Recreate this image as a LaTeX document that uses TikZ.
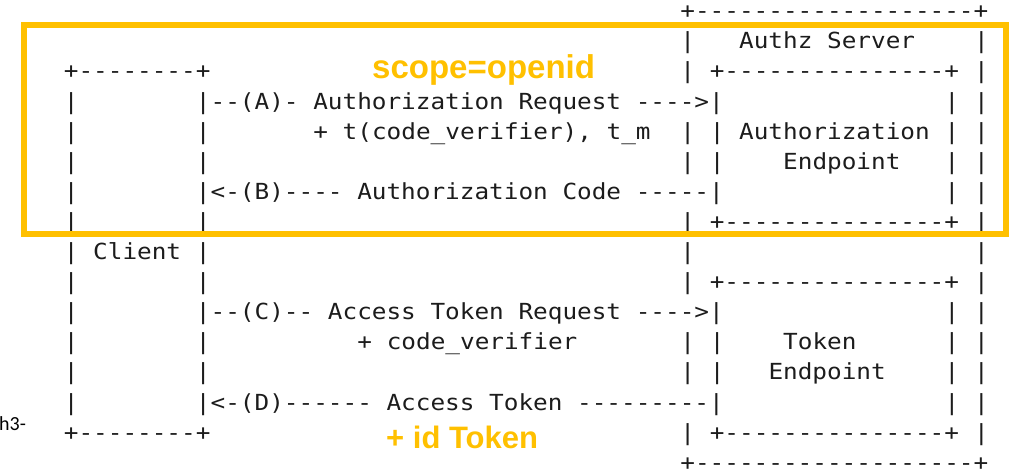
\documentclass[tikz,border=0pt]{standalone}
\usepackage{fontspec}
\setmonofont{DejaVu Sans Mono}[FakeStretch=1.1]
\newfontfamily\labelfont{Liberation Sans}
\newfontfamily\notefont{Carlito}
\definecolor{gold}{HTML}{FFC000}
\definecolor{ink}{HTML}{1C1C1C}
% one segment of the character grid: row, column, text
\newcommand\seg[3]{\node[ascii] (r#1c#2) at ({-38.9+14.68*#2},{18.8+30.1*#1}) {#3};}
\tikzset{
  ascii/.style={font=\ttfamily\fontsize{22.14}{26}\selectfont, text=ink,
    inner sep=0pt, outer sep=0pt, anchor=base west},
  remark/.style={font=\labelfont\bfseries, text=gold, inner sep=0pt, anchor=base west},
  frame/.style={draw=gold, line width=5.8pt}
}
\begin{document}
\begin{tikzpicture}[x=1pt,y=-1pt]
\useasboundingbox (0,0) rectangle (1018,470);
\clip (0,0) rectangle (1018,470);
% authorization server outline and client box
\seg{0}{49}{+-------------------+}
\seg{1}{49}{|}\seg{1}{53}{Authz Server}\seg{1}{69}{|}
\seg{2}{7}{+--------+}\seg{2}{49}{|}\seg{2}{51}{+---------------+}\seg{2}{69}{|}
\seg{3}{7}{|}\seg{3}{16}{|--(A)- Authorization Request ---->|}\seg{3}{67}{|}\seg{3}{69}{|}
\seg{4}{7}{|}\seg{4}{16}{|}\seg{4}{24}{+ t(code\_verifier), t\_m}\seg{4}{49}{|}\seg{4}{51}{|}\seg{4}{53}{Authorization}\seg{4}{67}{|}\seg{4}{69}{|}
\seg{5}{7}{|}\seg{5}{16}{|}\seg{5}{49}{|}\seg{5}{51}{|}\seg{5}{56}{Endpoint}\seg{5}{67}{|}\seg{5}{69}{|}
\seg{6}{7}{|}\seg{6}{16}{|<-(B)---- Authorization Code -----|}\seg{6}{67}{|}\seg{6}{69}{|}
\seg{7}{7}{|}\seg{7}{16}{|}\seg{7}{49}{|}\seg{7}{51}{+---------------+}\seg{7}{69}{|}
\seg{8}{7}{| Client |}\seg{8}{49}{|}\seg{8}{69}{|}
\seg{9}{7}{|}\seg{9}{16}{|}\seg{9}{49}{|}\seg{9}{51}{+---------------+}\seg{9}{69}{|}
\seg{10}{7}{|}\seg{10}{16}{|--(C)-- Access Token Request ---->|}\seg{10}{67}{|}\seg{10}{69}{|}
\seg{11}{7}{|}\seg{11}{16}{|}\seg{11}{27}{+ code\_verifier}\seg{11}{49}{|}\seg{11}{51}{|}\seg{11}{56}{Token}\seg{11}{67}{|}\seg{11}{69}{|}
\seg{12}{7}{|}\seg{12}{16}{|}\seg{12}{49}{|}\seg{12}{51}{|}\seg{12}{55}{Endpoint}\seg{12}{67}{|}\seg{12}{69}{|}
\seg{13}{7}{|}\seg{13}{16}{|<-(D)------ Access Token ---------|}\seg{13}{67}{|}\seg{13}{69}{|}
\seg{14}{7}{+--------+}\seg{14}{49}{|}\seg{14}{51}{+---------------+}\seg{14}{69}{|}
\seg{15}{49}{+-------------------+}
% highlighted first exchange
\draw[frame] (23.7,25.3) rectangle (1006.3,234.3);
\node[remark, font=\labelfont\bfseries\fontsize{33}{36}\selectfont] (scopenote) at (372,78.5) {scope=openid};
\node[remark, font=\labelfont\bfseries\fontsize{31}{34}\selectfont] (idnote) at (386,448.3) {+ id Token};
\node[font=\notefont\fontsize{20}{22}\selectfont, text=black, inner sep=0pt, anchor=base west] (margin) at (-1,430) {h3-};
\end{tikzpicture}
\end{document}
